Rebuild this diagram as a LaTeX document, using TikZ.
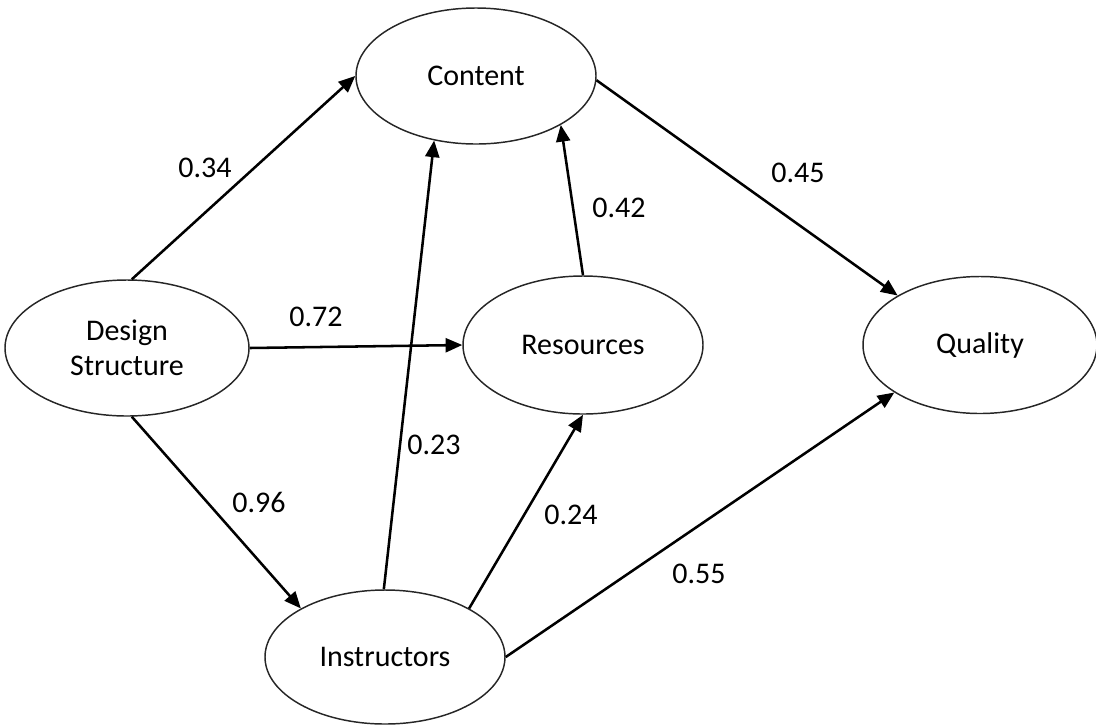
\documentclass[tikz,border=0pt]{standalone}
\usepackage{fontspec}
\setmainfont{Carlito}
\usetikzlibrary{shapes.geometric,arrows.meta}
\begin{document}
\begin{tikzpicture}[x=0.75pt,y=-0.75pt,
  latent/.style={ellipse,draw=black!85,line width=1.1pt,inner sep=0pt,align=center,
    font=\fontsize{22.5}{26}\selectfont},
  path/.style={line width=1.9pt,-{Triangle[length=12.5pt,width=10.5pt]}},
  coef/.style={font=\fontsize{22.5}{26}\selectfont,inner sep=0pt}]
\useasboundingbox (0,0) rectangle (1096,726);
\node[latent,minimum width=244*0.75pt,minimum height=136*0.75pt] (design) at (127,348) {Design\\Structure};
\node[latent,minimum width=240*0.75pt,minimum height=136*0.75pt] (content) at (476,76) {Content};
\node[latent,minimum width=240*0.75pt,minimum height=138*0.75pt] (resources) at (583,345) {Resources};
\node[latent,minimum width=234*0.75pt,minimum height=137*0.75pt] (quality) at (980,345) {Quality};
\node[latent,minimum width=240*0.75pt,minimum height=134*0.75pt] (instructors) at (385,657) {Instructors};
\draw[path] (design.86) -- (content.180);
\draw[path] (design.0) -- (resources.180);
\draw[path] (design.274) -- (instructors.150);
\draw[path] (instructors.91) -- (content.237);
\draw[path] (resources.90) -- (content.330);
\draw[path] (instructors.30) -- (resources.270);
\draw[path] (instructors.0) -- (quality.209.5);
\draw[path] (content.-2) -- (quality.149);
\node[coef] (c1) at (205,168) {0.34};
\node[coef] (c2) at (316,317) {0.72};
\node[coef] (c3) at (259,502) {0.96};
\node[coef] (c4) at (434,445) {0.23};
\node[coef] (c5) at (619,208) {0.42};
\node[coef] (c6) at (571,515) {0.24};
\node[coef] (c7) at (699,574) {0.55};
\node[coef] (c8) at (798,173) {0.45};
\end{tikzpicture}
\end{document}
